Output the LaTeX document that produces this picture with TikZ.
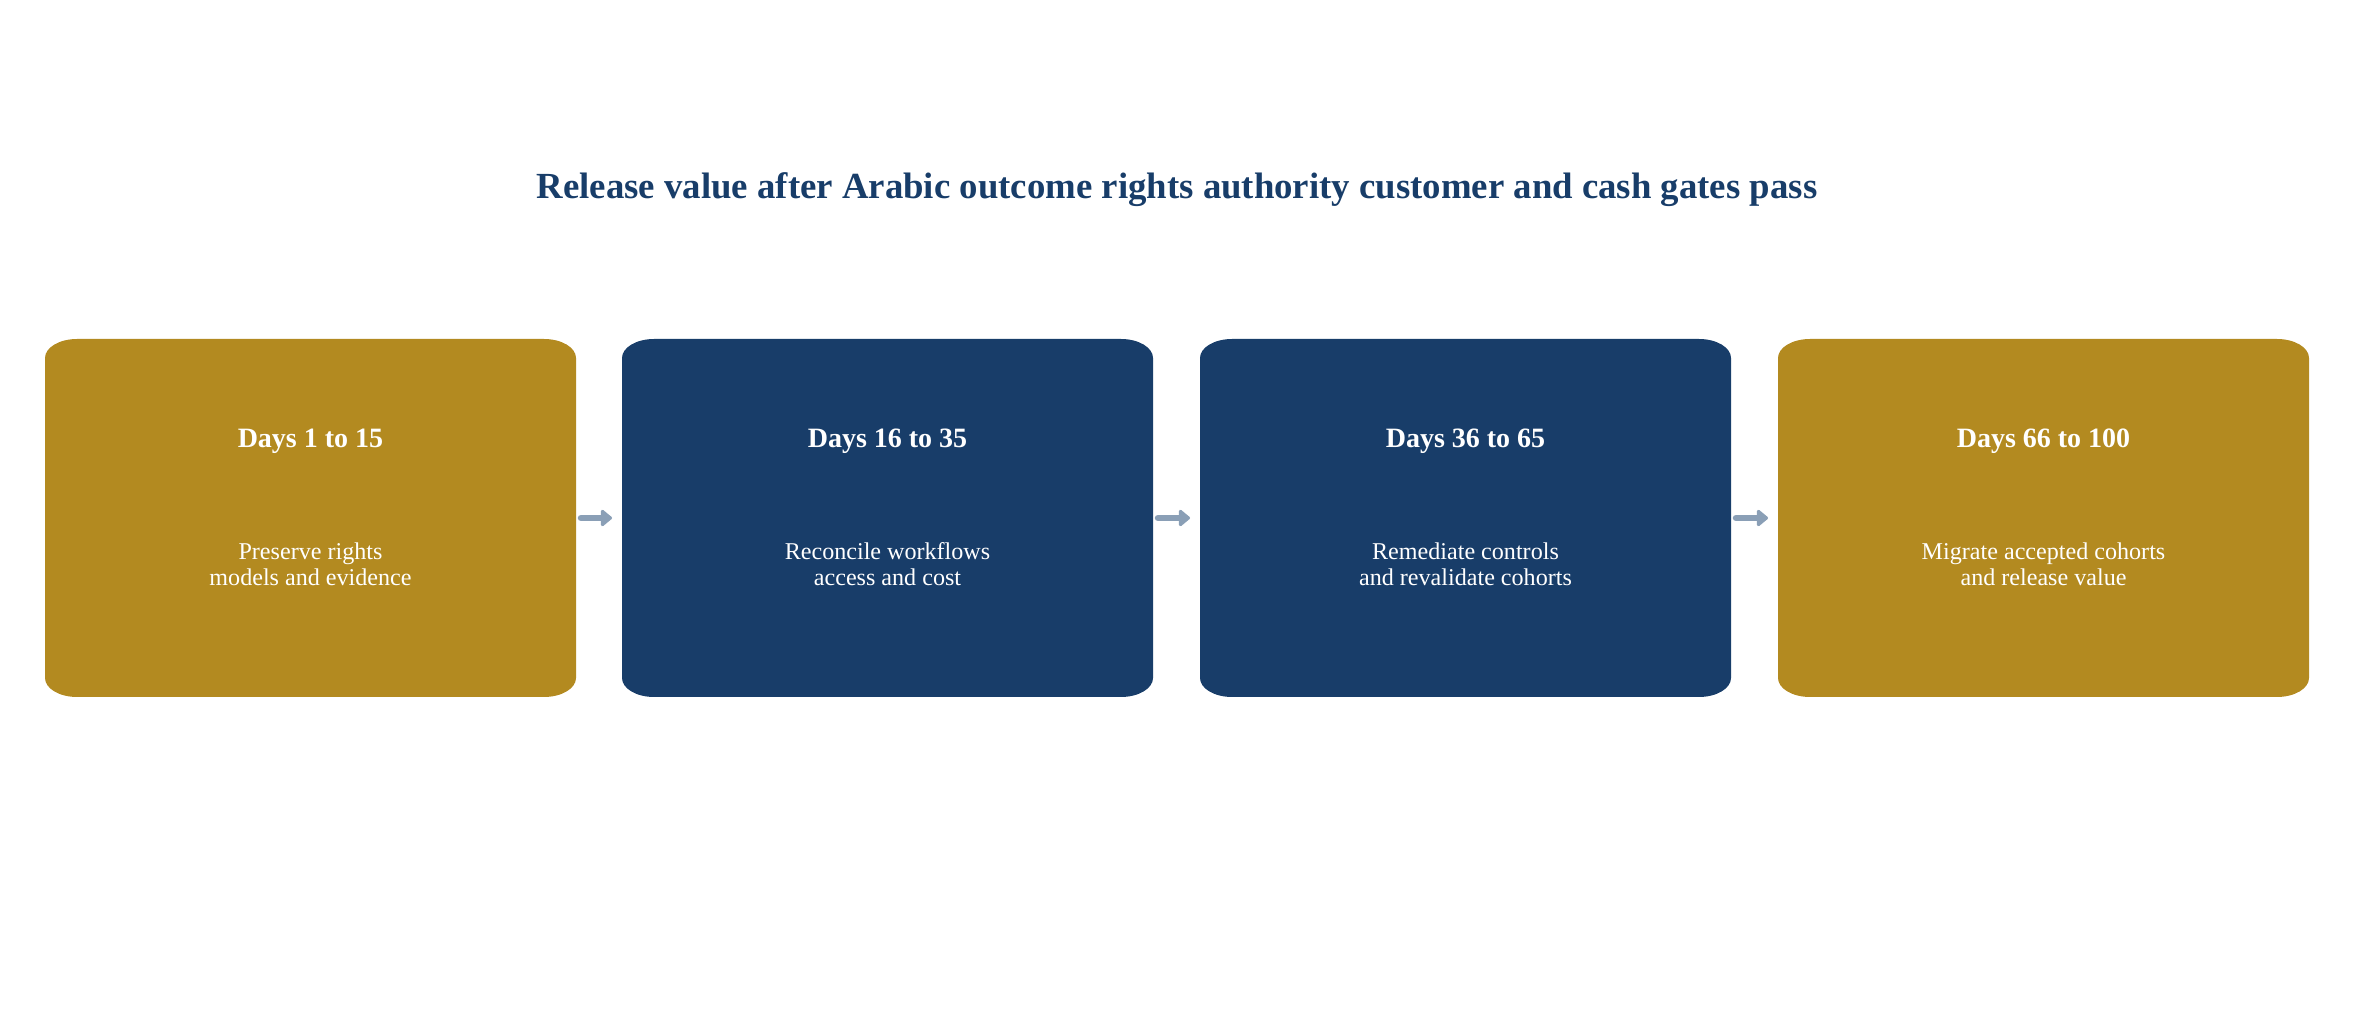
\documentclass[tikz,border=0pt]{standalone}
\usepackage{fontspec}
\setmainfont{Liberation Serif}
\usetikzlibrary{arrows.meta}
\definecolor{gold}{HTML}{B38A20}
\definecolor{navy}{HTML}{183D69}
\definecolor{arrowgray}{HTML}{8A9FB6}
\begin{document}
\begin{tikzpicture}[x=1pt,y=1pt,
  phase/.style={minimum width=531pt, minimum height=358pt, inner sep=0pt, outer sep=0pt,
    path picture={
      \fill[#1] ([xshift=32pt]path picture bounding box.north west)
        -- ([xshift=-32pt]path picture bounding box.north east)
        arc[start angle=90,end angle=0,x radius=32pt,y radius=19pt]
        -- ([yshift=19pt]path picture bounding box.south east)
        arc[start angle=0,end angle=-90,x radius=32pt,y radius=19pt]
        -- ([xshift=32pt]path picture bounding box.south west)
        arc[start angle=270,end angle=180,x radius=32pt,y radius=19pt]
        -- ([yshift=-19pt]path picture bounding box.north west)
        arc[start angle=180,end angle=90,x radius=32pt,y radius=19pt]
        -- cycle;}},
  phasetitle/.style={anchor=base, text=white, font=\fontsize{28}{32}\selectfont\bfseries, inner sep=0pt},
  phasebody/.style={anchor=base, text=white, align=center, font=\fontsize{24.1}{26}\selectfont, inner sep=0pt},
  arr/.style={draw=arrowgray, line width=6.5pt, line cap=round,
    -{Triangle[round,length=12pt,width=19pt]}}
]
\useasboundingbox (0,0) rectangle (2354,1034);
\node[anchor=base, text=navy, font=\fontsize{36.8}{40}\selectfont\bfseries, inner sep=0pt] (title) at (1177,835) {Release value after Arabic outcome rights authority customer and cash gates pass};

\node[phase=gold] (b1) at (310.5,516) {};
\node[phase=navy] (b2) at (887.5,516) {};
\node[phase=navy] (b3) at (1465.5,516) {};
\node[phase=gold] (b4) at (2043.5,516) {};

\foreach \b/\t/\x in {b1/{Days 1 to 15}/{Preserve rights\\models and evidence},
                      b2/{Days 16 to 35}/{Reconcile workflows\\access and cost},
                      b3/{Days 36 to 65}/{Remediate controls\\and revalidate cohorts},
                      b4/{Days 66 to 100}/{Migrate accepted cohorts\\and release value}}{
  \node[phasetitle] (\b t) at ([yshift=-109pt]\b.north) {\t};
  \node[phasebody] (\b x) at ([yshift=-247pt]\b.north) {\x};
}

\draw[arr, shorten <=5pt, shorten >=10pt] (b1.east) -- (b2.west);
\draw[arr, shorten <=5pt, shorten >=10pt] (b2.east) -- (b3.west);
\draw[arr, shorten <=5pt, shorten >=10pt] (b3.east) -- (b4.west);
\end{tikzpicture}
\end{document}
